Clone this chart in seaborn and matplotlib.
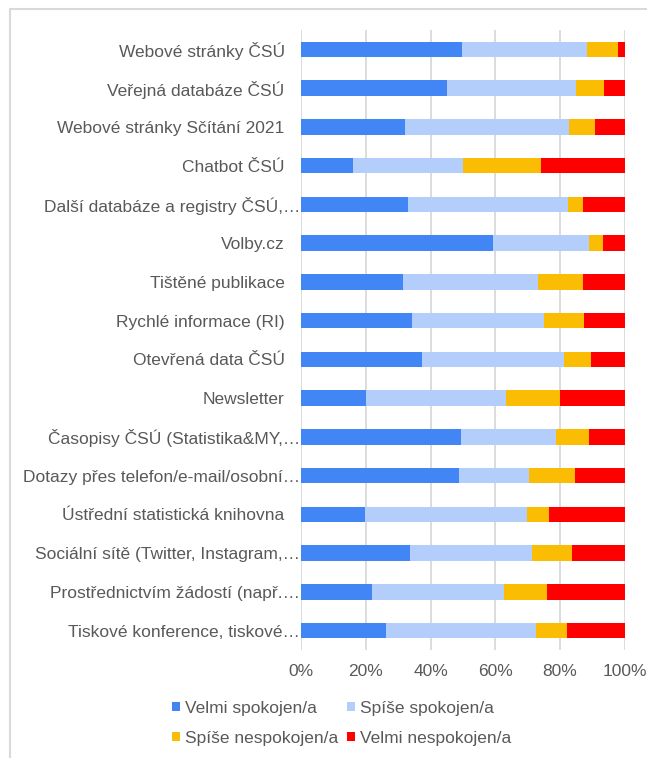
import numpy as np
import pandas as pd
import matplotlib
matplotlib.use("Agg")
import matplotlib.pyplot as plt
import matplotlib.transforms as mtransforms
from matplotlib.patches import Patch, Rectangle
import seaborn as sns

# Data (share of respondents, %)
categories = [
    "Webové stránky ČSÚ",
    "Veřejná databáze ČSÚ",
    "Webové stránky Sčítání 2021",
    "Chatbot ČSÚ",
    "Další databáze a registry ČSÚ,…",
    "Volby.cz",
    "Tištěné publikace",
    "Rychlé informace (RI)",
    "Otevřená data ČSÚ",
    "Newsletter",
    "Časopisy ČSÚ (Statistika&MY,…",
    "Dotazy přes telefon/e-mail/osobní…",
    "Ústřední statistická knihovna",
    "Sociální sítě (Twitter, Instagram,…",
    "Prostřednictvím žádostí (např.…",
    "Tiskové konference, tiskové…",
]
velmi_spokojen = [49.7, 45.1, 32.0, 16.1, 33.1, 59.3, 31.3, 34.2, 37.4, 20.0, 49.4, 48.8, 19.7, 33.6, 22.0, 26.1]
spise_spokojen = [38.7, 39.7, 50.8, 33.9, 49.4, 29.7, 41.9, 40.7, 43.8, 43.3, 29.3, 21.5, 50.0, 37.8, 40.6, 46.5]
spise_nespokojen = [9.5, 8.8, 8.1, 24.1, 4.6, 4.3, 13.9, 12.5, 8.4, 16.6, 10.3, 14.2, 6.9, 12.2, 13.5, 9.6]
velmi_nespokojen = [2.1, 6.4, 9.1, 25.9, 12.9, 6.7, 12.9, 12.6, 10.4, 20.1, 11.0, 15.5, 23.4, 16.4, 23.9, 17.8]

series_names = ["Velmi spokojen/a", "Spíše spokojen/a", "Spíše nespokojen/a", "Velmi nespokojen/a"]
series_colors = ["#4285F4", "#B3CEFB", "#FBBC04", "#FF0000"]
x_ticks = [0, 20, 40, 60, 80, 100]
x_tick_labels = ["0%", "20%", "40%", "60%", "80%", "100%"]

# Style
sns.set_theme(style="white")
plt.rcParams["font.family"] = ["Liberation Sans", "DejaVu Sans"]
TEXT_COLOR = "#595959"
GRID_COLOR = "#D9D9D9"

df = pd.DataFrame({
    "category": categories,
    series_names[0]: velmi_spokojen,
    series_names[1]: spise_spokojen,
    series_names[2]: spise_nespokojen,
    series_names[3]: velmi_nespokojen,
})
cum = df[series_names].cumsum(axis=1)
cum["category"] = df["category"]

fig = plt.figure(figsize=(6.47, 7.58), dpi=100)
ax = fig.add_axes([301.3 / 647, 1 - 650 / 758, 323.4 / 647, 620 / 758])

# stacked bars: draw cumulative totals from the right-most segment down
for name, color in reversed(list(zip(series_names, series_colors))):
    sns.barplot(data=cum, x=name, y="category", orient="h", color=color,
                width=0.4, linewidth=0, saturation=1, ax=ax)

ax.set_xlim(0, 100)
ax.set_ylim(len(categories) - 0.5, -0.5)
ax.set_xticks(x_ticks)
ax.set_xticklabels(x_tick_labels)
ax.set_xlabel("")
ax.set_ylabel("")
ax.grid(axis="x", color=GRID_COLOR, linewidth=1.3)
ax.set_axisbelow(True)
for s in ax.spines.values():
    s.set_visible(False)

ax.tick_params(axis="y", length=0, pad=12, labelsize=12.5, labelcolor=TEXT_COLOR)
ax.tick_params(axis="x", length=0, pad=10, labelsize=12.5, labelcolor=TEXT_COLOR)

# truncated labels (with ellipsis) run closer to the axis, like in Excel
shift = mtransforms.ScaledTranslation(11 / 72, 0, fig.dpi_scale_trans)
for lbl in ax.get_yticklabels():
    if lbl.get_text().endswith("…"):
        lbl.set_transform(lbl.get_transform() + shift)

# chart frame
fig.patches.append(Rectangle((9.5 / 647, -0.1), 1.2, 1 - 9.5 / 758 + 0.1,
                             transform=fig.transFigure, fill=False,
                             edgecolor=GRID_COLOR, linewidth=1.5))

# legend, row-wise order
order = [0, 2, 1, 3]
handles = [Patch(facecolor=series_colors[i], edgecolor="none") for i in order]
labels = [series_names[i] for i in order]
leg = fig.legend(handles, labels, ncol=2, loc="upper left",
                 bbox_to_anchor=(172 / 647, 1 - 701 / 758), frameon=False,
                 fontsize=12.5, handlelength=0.45, handleheight=0.45,
                 handletextpad=0.3, columnspacing=0.5, labelspacing=0.85,
                 borderpad=0, borderaxespad=0)
for t in leg.get_texts():
    t.set_color(TEXT_COLOR)

fig.savefig("out.png", dpi=100)
